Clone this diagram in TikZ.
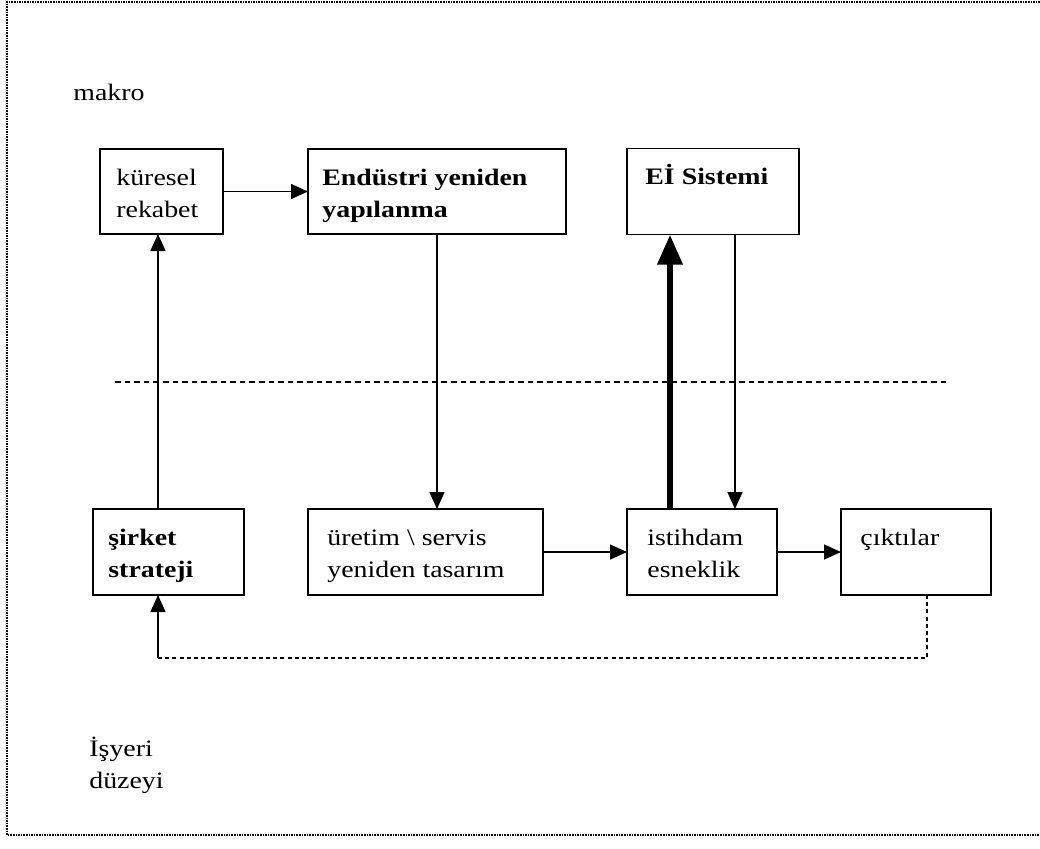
\documentclass[tikz,border=0pt]{standalone}
\usepackage{fontspec}
\setmainfont{Liberation Serif}[FakeStretch=1.18]
\usetikzlibrary{arrows.meta,positioning,calc}
\newcommand{\boxlines}[1]{\begin{tabular}[t]{@{}l@{}}#1\end{tabular}}

\begin{document}
\begin{tikzpicture}[x=0.5pt, y=-0.5pt, >={Triangle[length=8.5pt,width=7.5pt]}]
        \tikzset{box/.style={rectangle, draw, line width=0.9pt, inner sep=0pt, outer sep=0pt, minimum height=43pt}, txt/.style={anchor=base west, inner sep=0pt, font=\fontsize{11.8}{16}\selectfont}, conn/.style={->, line width=0.8pt}, heavy/.style={-{Triangle[length=15pt,width=12pt]}, line width=3.2pt}, sep/.style={line width=0.9pt, dash pattern=on 2.8pt off 2pt}, fbdash/.style={line width=0.8pt, dash pattern=on 2pt off 1.6pt}, frame/.style={line width=1pt, dash pattern=on 0.8pt off 0.5pt}}
        \useasboundingbox (0,0) rectangle (1040,848);
        \draw[frame] (1040,2) -- (7,2) -- (7,835) -- (1040,835);
        % top row
        \node[box, anchor=north west, minimum width=61.5pt, minimum height=42.5pt] (kuresel) at (100,149) {};
        \node[box, right=42.5pt of kuresel, minimum width=129pt, minimum height=42.5pt] (endustri) {};
        \node[box, right=30.5pt of endustri, minimum width=86pt] (eisistemi) {};
        % bottom row
        \node[box, anchor=north west, minimum width=75.5pt] (sirket) at (93,509) {};
        \node[box, right=32pt of sirket, minimum width=117.5pt] (uretim) {};
        \node[box, right=42pt of uretim, minimum width=75pt] (istihdam) {};
        \node[box, right=32pt of istihdam, minimum width=75pt] (ciktilar) {};
        % texts
        \node[txt] (makro) at (73,100) {makro};
        \node[txt] (isyeri) at (89,756) {\boxlines{İşyeri\\düzeyi}};
        \node[txt] (kuresel-t) at ([shift={(16,36)}]kuresel.north west) {\boxlines{küresel\\rekabet}};
        \node[txt] (endustri-t) at ([shift={(14,36)}]endustri.north west) {\bfseries\boxlines{Endüstri yeniden\\yapılanma}};
        \node[txt] (eisistemi-t) at ([shift={(18,36)}]eisistemi.north west) {\bfseries Eİ Sistemi};
        \node[txt] (sirket-t) at ([shift={(15,36)}]sirket.north west) {\bfseries\boxlines{şirket\\strateji}};
        \node[txt] (uretim-t) at ([shift={(19,36)}]uretim.north west) {\boxlines{üretim \textbackslash{} servis\\yeniden tasarım}};
        \node[txt] (istihdam-t) at ([shift={(20,36)}]istihdam.north west) {\boxlines{istihdam\\esneklik}};
        \node[txt] (ciktilar-t) at ([shift={(19,36)}]ciktilar.north west) {çıktılar};
        % level separator
        \draw[sep] (115,382) -- (948,382);
        % connectors
        \coordinate (fb) at (158,658);
        \draw[conn] (kuresel) -- (endustri);
        \draw[conn] (endustri.south) -- (endustri.south |- uretim.north);
        \draw[conn] (uretim) -- (istihdam);
        \draw[conn] (istihdam) -- (ciktilar);
        \draw[conn] (sirket.north -| fb) -- (kuresel.south -| fb);
        \draw[heavy] ([xshift=-16pt]istihdam.north) -- ([xshift=-16pt]istihdam.north |- eisistemi.south);
        \draw[conn] ([xshift=16.5pt]istihdam.north |- eisistemi.south) -- ([xshift=16.5pt]istihdam.north);
        \draw[fbdash] ([xshift=5.5pt]ciktilar.south) |- (fb);
        \draw[conn] (fb) -- (sirket.south -| fb);
    \end{tikzpicture}
\end{document}
